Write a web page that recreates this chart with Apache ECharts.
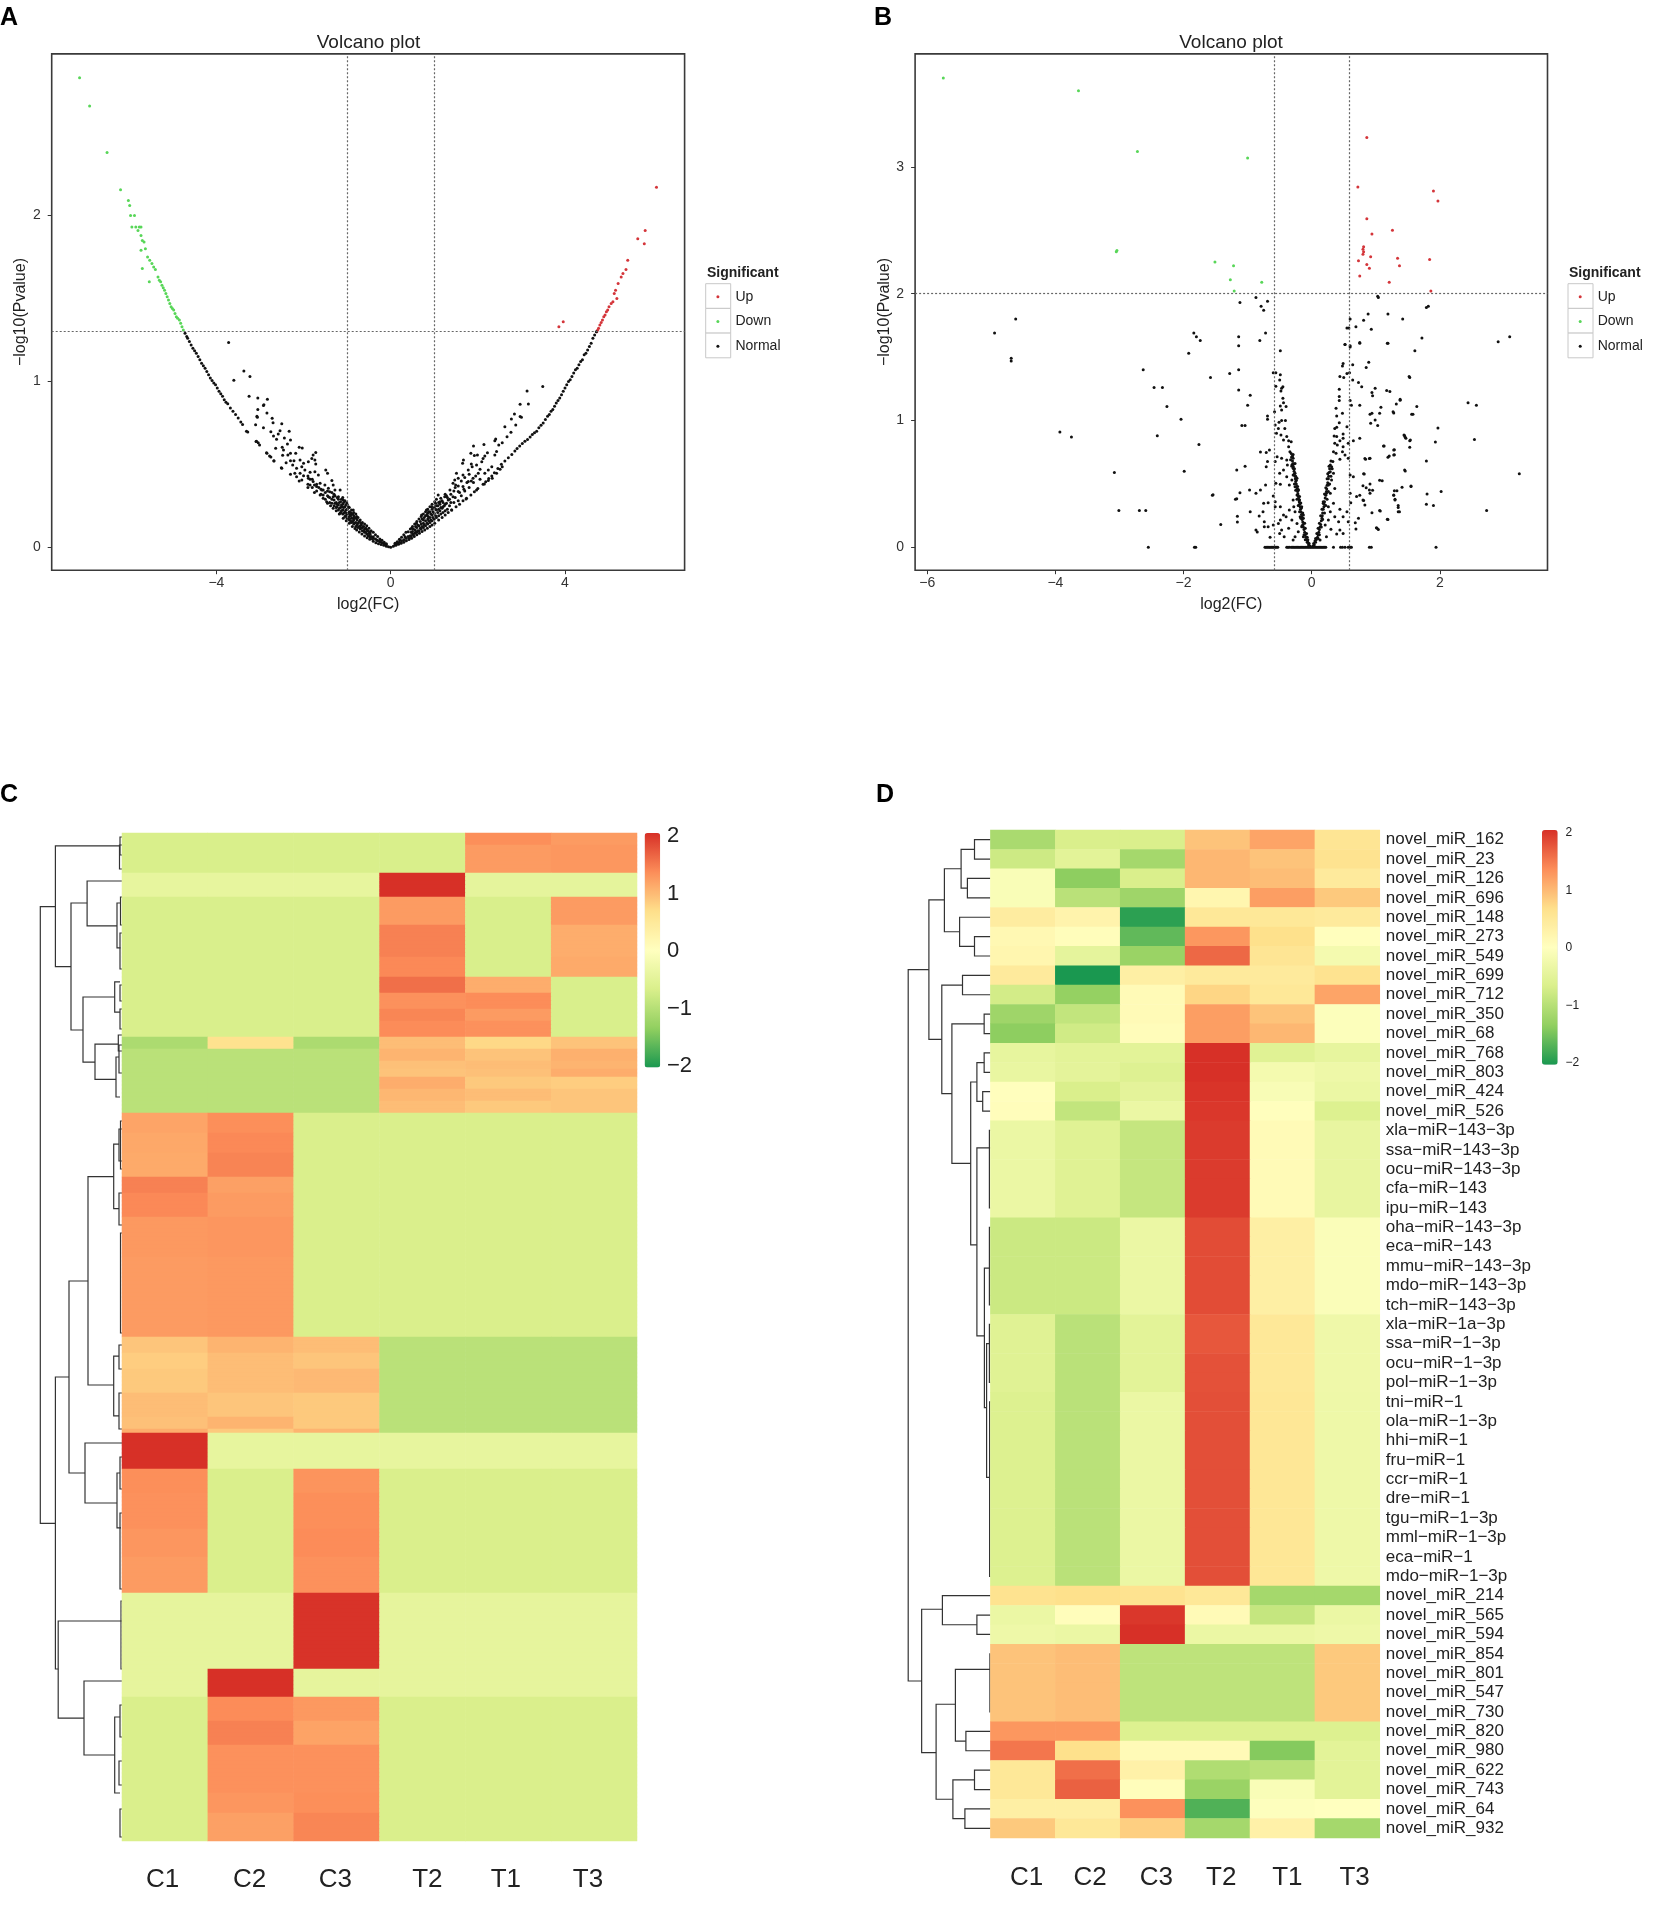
<!DOCTYPE html>
<html><head><meta charset="utf-8">
<style>html,body{margin:0;padding:0;background:#fff}#c{width:1654px;height:1906px}</style>
<script src="https://cdn.jsdelivr.net/npm/echarts@6/dist/echarts.min.js"></script>
</head><body><div id="c"></div>
<script>
// ---------- Volcano A (log2FC, -log10 P) ----------
const upA=[[6.1,2.17],[5.84,1.91],[5.67,1.86],[5.82,1.83],[5.44,1.73],[5.4,1.675],[5.33,1.65],[5.29,1.63],[5.22,1.59],[5.16,1.55],[5.13,1.53],[5.19,1.5],[5.1,1.48],[5.06,1.47],[5.01,1.45],[4.98,1.43],[4.95,1.42],[4.92,1.4],[4.89,1.39],[4.86,1.37],[4.83,1.355],[4.8,1.34],[4.77,1.32],[4.75,1.31],[4.73,1.3],[3.96,1.36],[3.86,1.33]];
const downA=[[-7.14,2.83],[-6.91,2.66],[-6.51,2.38],[-6.2,2.155],[-6.02,2.09],[-5.99,2.06],[-5.97,2.0],[-5.88,2.0],[-5.94,1.93],[-5.85,1.93],[-5.77,1.93],[-5.73,1.93],[-5.8,1.91],[-5.73,1.88],[-5.7,1.85],[-5.66,1.84],[-5.73,1.79],[-5.63,1.8],[-5.58,1.75],[-5.53,1.73],[-5.48,1.71],[-5.7,1.68],[-5.4,1.675],[-5.44,1.69],[-5.54,1.6],[-5.34,1.63],[-5.28,1.6],[-5.31,1.61],[-5.25,1.58],[-5.22,1.565],[-5.19,1.55],[-5.16,1.53],[-5.13,1.51],[-5.1,1.49],[-5.07,1.47],[-5.04,1.45],[-5.01,1.44],[-4.98,1.43],[-4.95,1.41],[-4.92,1.39],[-4.89,1.38],[-4.85,1.37],[-4.82,1.35],[-4.79,1.33],[-4.76,1.31]];
const normalA=[
[-4.72,1.29],[-4.68,1.27],[-4.66,1.26],[-4.62,1.24],[-4.58,1.22],[-4.54,1.2],[-4.5,1.185],[-4.46,1.17],[-4.42,1.15],[-4.38,1.13],[-4.34,1.11],[-4.3,1.095],[-4.26,1.08],[-4.22,1.06],[-4.18,1.04],[-4.14,1.02],[-4.1,1.005],[-4.06,.99],[-4.02,.98],[-3.98,.96],[-3.94,.94],[-3.9,.925],[-3.86,.91],[-3.82,.89],[-3.78,.875],[-3.74,.865],[-3.68,.84],[-3.62,.82],[-3.56,.8],[-3.5,.78],[-3.44,.755],[-3.4,.74],[-3.31,.7],[-3.28,.695],[-3.08,.64],[-3.04,.63],[-2.85,.57],[-2.78,.55],[-2.68,.52],[-2.51,.48],[-2.3,.44],[-2.1,.4],[-1.9,.36],[-1.75,.33],[-1.62,.315],[-1.55,.295],[-1.45,.265],[-1.38,.25],[-1.32,.235],[-1.25,.22],[-1.18,.2],[-1.09,.175],[-1.02,.16],[-.95,.145],[-.88,.125],[-.82,.113],[-.78,.104],[-.72,.092],[-.66,.08],[-.6,.068],[-.54,.058],[-.48,.048],[-.4,.036],[-.34,.028],[-.28,.022],[-.22,.017],[-.16,.012],[-.1,.007],[-.05,.003],[0,0],
[-3.72,1.234],[-3.37,1.063],[-3.6,1.007],[-3.23,1.029],[-3.25,.91],[-3.05,.9],[-2.83,.892],[-2.92,.854],[-2.91,.86],[-3.05,.83],[-2.84,.81],[-3.06,.784],[-3.07,.79],[-2.72,.778],[-2.5,.745],[-2.7,.751],[-3.1,.739],[-2.92,.721],[-2.75,.697],[-2.54,.703],[-2.33,.699],[-2.58,.683],[-2.69,.671],[-2.62,.651],[-2.44,.659],[-2.3,.647],[-3.09,.637],[-3.01,.617],[-2.37,.623],[-2.49,.603],[-2.64,.597],[-2.1,.603],[-2.03,.599],[-2.46,.587],[-2.84,.567],[-2.48,.555],[-2.36,.557],[-2.3,.567],[-2.18,.567],[-2.75,.545],[-2.68,.522],[-2.4,.51],[-2.3,.522],[-2.22,.522],[-1.78,.557],[-1.72,.571],[-1.81,.536],[-2.08,.526],[-2.0,.506],[-1.89,.516],[-1.74,.526],[-1.72,.502],[-2.5,.476],[-2.25,.496],[-2.16,.476],[-2.04,.486],[-1.97,.466],[-1.85,.452],[-1.74,.456],[-1.66,.436],[-1.49,.466],[-1.45,.446],[-2.2,.446],[-2.08,.446],[-2.0,.432],[-2.16,.426],[-2.04,.406],[-1.89,.416],[-1.78,.396],[-1.62,.386],[-1.35,.402],[-1.32,.376],[-1.51,.376],[-1.85,.376],[-1.7,.366],[-1.58,.346],[-1.43,.356],[-1.28,.346],[-1.16,.346],[-1.55,.315],[-1.43,.305],[-1.32,.305],[-1.2,.305],[-1.09,.285],[-1.01,.269],[-1.47,.275],[-1.35,.265],[-1.24,.245],[-1.12,.245],[-.97,.245],[-.86,.225],[-1.16,.205],[-1.01,.205],[-.93,.195],[-.78,.185],[-.7,.165],[-.86,.175],[-.67,.135],[-.55,.104],[-.4,.064],[-.47,.094],[-.32,.044],[-.24,.034],
[-.1,.015],[-.1,.022],[-.15,.02],[-.15,.03],[-.2,.028],[-.2,.042],[-.25,.035],[-.25,.05],[-.3,.04],[-.3,.065],[-.35,.05],[-.35,.075],[-.4,.055],[-.4,.09],[-.45,.065],[-.45,.1],[-.5,.07],[-.5,.085],[-.5,.115],[-.55,.08],[-.55,.13],[-.6,.09],[-.6,.11],[-.6,.14],[-.65,.1],[-.65,.12],[-.65,.15],[-.7,.11],[-.7,.13],[-.75,.12],[-.75,.145],[-.75,.18],[-.8,.125],[-.8,.15],[-.8,.175],[-.8,.2],[-.85,.14],[-.85,.165],[-.85,.19],[-.85,.21],[-.9,.15],[-.9,.175],[-.9,.2],[-.9,.225],[-.95,.165],[-.95,.185],[-.95,.215],[-.95,.24],[-1.0,.175],[-1.0,.2],[-1.0,.23],[-1.0,.26],[-1.05,.185],[-1.05,.215],[-1.05,.245],[-1.05,.28],[-1.1,.2],[-1.1,.225],[-1.1,.26],[-1.1,.3],[-1.15,.21],[-1.15,.24],[-1.15,.275],[-1.2,.225],[-1.2,.255],[-1.2,.29],[-1.25,.24],[-1.25,.27],[-1.3,.25],[-1.3,.285],[-1.3,.32],[-1.4,.27],[-1.4,.3],[-1.4,.335],[-1.5,.29],[-1.5,.33],[-1.6,.32],[-1.6,.35],[-1.7,.34],[-1.7,.38],[-1.8,.36],[-1.8,.41],[-1.9,.38],[-1.9,.43],
[-.42,.05],[-.47,.06],[-.47,.08],[-.52,.07],[-.52,.1],[-.57,.09],[-.57,.115],[-.62,.1],[-.62,.125],[-.68,.115],[-.68,.145],[-.72,.125],[-.72,.155],[-.77,.135],[-.77,.165],[-.83,.145],[-.83,.18],[-.87,.155],[-.87,.2],[-.92,.16],[-.92,.19],[-.92,.21],[-.97,.175],[-.97,.205],[-1.03,.19],[-1.03,.225],[-1.03,.255],[-1.08,.205],[-1.08,.24],[-1.08,.27],[-1.13,.22],[-1.13,.255],[-1.13,.29],[-1.18,.235],[-1.18,.27],[-1.23,.26],[-1.23,.3],[-1.28,.265],[-1.28,.31],[-1.35,.29],[-1.35,.33],[-1.45,.31],[-1.45,.34],[-1.55,.345],[-1.65,.36],[-1.75,.375],[-1.85,.41],
[4.72,1.3],[4.68,1.28],[4.64,1.26],[4.6,1.23],[4.56,1.21],[4.52,1.19],[4.48,1.17],[4.44,1.16],[4.4,1.13],[4.36,1.12],[4.32,1.1],[4.28,1.08],[4.24,1.07],[4.2,1.05],[4.16,1.03],[4.12,1.01],[4.08,1.0],[4.04,.98],[4.0,.96],[3.96,.94],[3.92,.92],[3.88,.9],[3.84,.885],[3.8,.87],[3.76,.85],[3.72,.83],[3.68,.82],[3.64,.8],[3.6,.79],[3.55,.77],[3.5,.75],[3.45,.735],[3.4,.72],[3.35,.7],[3.3,.69],[3.25,.68],[3.2,.665],[3.14,.65],[3.08,.64],[3.02,.625],[2.96,.61],[2.9,.595],[2.85,.58],[2.78,.56],[2.7,.54],[2.62,.52],[2.54,.5],[2.46,.475],[2.38,.45],[2.32,.43],[2.25,.415],[2.18,.395],[2.12,.38],[2.0,.355],[1.92,.335],[1.84,.315],[1.74,.295],[1.66,.28],[1.58,.26],[1.5,.245],[1.4,.225],[1.32,.21],[1.25,.195],[1.18,.18],[1.1,.165],[1.01,.145],[.95,.135],[.9,.125],[.84,.115],[.78,.105],[.72,.095],[.66,.085],[.6,.075],[.54,.065],[.48,.054],[.42,.047],[.36,.04],[.3,.03],[.24,.024],[.18,.018],[.12,.012],[.06,.006],
[1.9,.61],[2.14,.62],[2.41,.653],[2.39,.643],[2.56,.63],[1.84,.567],[1.92,.553],[1.99,.557],[1.67,.526],[1.65,.506],[1.85,.502],[1.97,.496],[2.12,.536],[2.22,.57],[2.16,.55],[2.09,.516],[2.39,.557],[2.43,.577],[2.48,.617],[3.13,.942],[3.49,.97],[2.97,.862],[3.16,.864],[2.84,.804],[2.77,.774],[2.97,.788],[3.0,.784],[2.87,.737],[2.62,.727],[2.76,.693],[2.67,.667],[1.51,.446],[1.47,.406],[1.43,.386],[1.55,.416],[1.66,.436],[1.78,.466],[1.87,.486],[2.01,.446],[1.89,.416],[1.78,.396],[1.66,.366],[1.55,.336],[1.43,.305],[1.97,.346],[1.73,.291],[2.16,.446],[2.32,.486],[2.24,.466],[2.15,.382],[2.24,.402],[2.33,.416],[2.43,.446],[2.56,.486],[2.51,.47],[1.4,.225],[1.09,.315],[1.24,.305],[1.13,.275],[1.36,.346],[1.49,.376],[1.32,.285],[1.01,.275],[.94,.245],[.82,.225],[1.05,.225],[1.2,.245],[.71,.195],[.86,.185],[.59,.145],[.75,.145],[.48,.115],[.4,.094],[.56,.104],[.33,.064],[.21,.044],
[.1,.016],[.1,.024],[.15,.022],[.15,.034],[.2,.03],[.2,.048],[.25,.04],[.25,.06],[.3,.045],[.3,.075],[.35,.055],[.35,.09],[.4,.065],[.45,.07],[.45,.11],[.5,.08],[.5,.095],[.5,.125],[.55,.085],[.55,.14],[.6,.09],[.6,.12],[.6,.155],[.65,.1],[.65,.13],[.65,.17],[.7,.11],[.7,.14],[.7,.185],[.75,.12],[.75,.165],[.75,.2],[.8,.13],[.8,.16],[.8,.19],[.8,.215],[.85,.14],[.85,.17],[.85,.205],[.85,.23],[.9,.15],[.9,.18],[.9,.215],[.9,.245],[.95,.16],[.95,.195],[.95,.23],[.95,.26],[1.0,.17],[1.0,.205],[1.0,.24],[1.05,.18],[1.05,.25],[1.05,.29],[1.1,.19],[1.1,.23],[1.1,.27],[1.15,.2],[1.15,.24],[1.15,.295],[1.2,.21],[1.2,.27],[1.25,.22],[1.25,.26],[1.25,.32],[1.3,.23],[1.3,.3],[1.35,.25],[1.35,.29],[1.45,.27],[1.45,.34],[1.55,.28],[1.55,.37],[1.62,.31],[1.62,.4],[1.7,.34],[1.7,.42],[1.8,.36],[1.8,.44],[1.9,.39],[1.95,.43],[2.05,.41],[2.05,.47],
[.42,.055],[.47,.065],[.47,.09],[.52,.075],[.52,.11],[.57,.09],[.57,.125],[.62,.1],[.62,.135],[.68,.115],[.68,.155],[.72,.125],[.72,.17],[.77,.135],[.77,.18],[.83,.145],[.83,.195],[.87,.16],[.87,.215],[.92,.165],[.92,.2],[.97,.18],[.97,.215],[1.03,.19],[1.03,.23],[1.03,.265],[1.08,.21],[1.08,.25],[1.13,.22],[1.13,.26],[1.18,.235],[1.18,.28],[1.23,.25],[1.28,.265],[1.28,.31],[1.38,.27],[1.38,.32],[1.48,.3],[1.48,.36],[1.58,.33],[1.68,.35],[1.75,.39],[1.85,.4]];
const vLinesA=[-1,1]; const hLinesA=[1.3];
const xTicksA=[-4,0,4]; const yTicksA=[0,1,2];

// ---------- Volcano B ----------
const upB=[[.86,3.23],[.72,2.84],[1.9,2.81],[1.97,2.73],[.86,2.59],[1.26,2.5],[.94,2.47],[.81,2.37],[.8,2.35],[.81,2.33],[.8,2.31],[.92,2.29],[1.34,2.28],[.73,2.26],[1.84,2.27],[1.37,2.22],[.86,2.23],[.9,2.2],[.75,2.14],[1.21,2.09],[1.86,2.02]];
const downB=[[-5.75,3.7],[-3.64,3.6],[-2.72,3.12],[-1.0,3.07],[-3.05,2.33],[-3.04,2.34],[-1.51,2.25],[-1.22,2.22],[-1.27,2.11],[-.78,2.09],[-1.21,2.02]];
const normalB=[
[-4.62,1.8],[-4.95,1.69],[-4.69,1.49],[-4.69,1.47],[-3.93,.91],[-3.75,.87],[-2.63,1.4],[-2.46,1.26],[-2.33,1.26],[-2.26,1.11],[-2.04,1.01],[-2.41,.88],[-1.76,.81],[-3.08,.59],[-1.99,.6],[-3.01,.29],[-2.69,.29],[-2.59,.29],[-2.55,0],[-1.83,0],[-1.81,0],[-1.84,1.69],[-1.8,1.66],[-1.74,1.63],[-1.92,1.53],[-1.58,1.34],[-1.28,1.37],[-1.14,1.4],[-1.14,1.66],[-1.14,1.59],[-.81,1.63],[-.72,1.69],[-.49,1.55],[-1.12,1.93],[-.87,1.97],[-.69,1.94],[-.79,1.9],[-.75,1.87],[-1.14,1.24],[-.96,1.2],[-1.0,1.12],[-1.09,.96],[-1.04,.96],[-1.04,.64],[-1.17,.61],[-1.55,.41],[-1.42,.18],[-1.16,.245],[-1.16,.2],[-1.19,.38],[-1.12,.43],
[1.03,1.98],[1.04,1.97],[1.19,1.84],[1.42,1.8],[1.82,1.9],[1.79,1.89],[1.72,1.65],[1.61,1.55],[1.19,1.61],[.75,1.61],[.93,1.72],[.88,1.84],[.81,1.79],[.69,1.74],[.58,1.73],[.55,1.73],[.6,1.8],[.52,1.6],[.6,1.59],[2.91,1.62],[3.09,1.66],[2.44,1.14],[2.57,1.12],[2.54,.85],[3.24,.58],[2.73,.29],[1.53,1.34],[1.64,1.11],[1.56,1.05],[1.38,1.16],[1.28,1.06],[1.97,.94],[1.93,.83],[1.79,.68],[2.02,.44],[1.55,.48],[1.45,.61],[1.8,.42],[1.79,.34],[1.9,.33],[1.94,0],[.93,0],[.9,0],[1.45,.88],[1.47,.86],[1.53,.84],[1.53,.79],[1.29,.77],[1.29,.73],[1.19,.71],[1.12,.8],[.83,.7],[.9,.7],[1.06,.53],[.81,.58],[.95,.45],[1.28,.41],[1.3,.38],[1.35,.33],[1.37,.28],[1.06,.29],[1.19,.22],[1.02,.15],[1.04,.14],[.91,.5],[.75,.41],[.81,.37],
[-.8,.752],[-.71,.747],[-.66,.768],[-.69,.676],[-.71,.636],[-1.54,.415],[-1.17,.384],[-.97,.452],[-.87,.426],[-.8,.452],[-.72,.492],[-.96,.281],[-.82,.247],[-.75,.347],[-.68,.352],[-.6,.405],[-.57,.36],[-.76,.281],[-.74,.202],[-.87,.137],[-.85,.121],[-.74,.163],[-.68,.163],[-.6,.176],[-.65,.079],[-.52,.189],[-.49,.216],[-.44,.255],[-.4,.242],[-.57,.321],[-.49,.321],[-.47,.137],[-.5,.11],[-.43,.084],[-.36,.15],[-.31,.216],[-.35,.294],[-.28,.321],[-.26,.084],[-.21,.124],[-.23,.189],[-.18,.242],[-.156,.163],[-.13,.084],[-.29,.058],
[-.6,1.377],[-.56,1.377],[-.49,1.36],[-.56,1.27],[-.5,1.32],[-.47,1.254],[-.45,1.267],[-.48,1.233],[-.45,1.175],[-.58,1.07],[-.44,1.14],[-.4,1.11],[-.49,1.115],[-.47,1.083],[-.69,1.036],[-.69,1.01],[-.57,.965],[-.51,.986],[-.47,1.0],[-.41,1.0],[-.52,.938],[-.42,.938],[-.55,.9],[-.48,.886],[-.39,.873],[-.44,.846],[-.36,.841],[-.32,.833],[-.36,.794],[-.34,.754],[-.29,.733],[-.31,.715],[-.54,.715],[-.47,.702],[-.39,.689],[-.29,.702],[-.57,.676],[-.38,.649],[-.31,.649],[-.26,.662],[-.29,.623],[-.44,.61],[-.5,.584],[-.39,.557],[-.26,.584],[-.23,.544],[-.31,.531],[-.35,.492],[-.56,.505],[-.49,.497],[-.26,.478],[-.21,.457],[-.23,.413],[-.29,.373],[-.19,.373],[-.156,.321],[-.13,.255],[-.26,.281],
[-.32,.74],[-.31,.71],[-.3,.68],[-.295,.66],[-.29,.64],[-.28,.62],[-.275,.6],[-.27,.58],[-.26,.56],[-.255,.54],[-.25,.52],[-.24,.5],[-.235,.48],[-.23,.46],[-.22,.44],[-.215,.42],[-.21,.4],[-.2,.38],[-.195,.36],[-.19,.34],[-.18,.32],[-.175,.3],[-.17,.28],[-.16,.26],[-.155,.24],[-.15,.22],[-.14,.2],[-.135,.18],[-.13,.16],[-.12,.14],[-.11,.12],[-.1,.1],[-.09,.08],[-.08,.06],[-.06,.04],[-.05,.02],[-.03,.01],[-.02,.005],[-.3,.72],[-.28,.66],[-.27,.62],[-.25,.56],[-.24,.53],[-.22,.48],[-.21,.45],[-.19,.4],[-.17,.35],[-.16,.31],[-.14,.27],[-.13,.23],[-.11,.19],[-.1,.15],[-.08,.11],[-.07,.08],[-.06,.06],[-.04,.03],[-.33,.69],[-.31,.64],[-.29,.57],[-.27,.5],[-.25,.45],[-.23,.38],[-.21,.33],[-.19,.28],[-.17,.23],[-.15,.17],[-.12,.1],[-.1,.06],[-.07,.04],
[.49,1.45],[.48,1.43],[.64,1.44],[.85,1.417],[.89,1.46],[.44,1.346],[.5,1.34],[.55,1.37],[.59,1.377],[.64,1.32],[.73,1.3],[.78,1.267],[.43,1.246],[.43,1.19],[.43,1.157],[.6,1.157],[.62,1.12],[.75,1.12],[.38,1.096],[.48,1.057],[.39,1.036],[.43,.983],[.39,.946],[.36,.938],[.55,.95],[.49,.894],[.35,.878],[.39,.873],[.49,.86],[.44,.841],[.57,.82],[.65,.841],[.75,.86],[.36,.82],[.4,.807],[.49,.794],[.34,.754],[.38,.741],[.48,.754],[.52,.728],[.44,.694],[.33,.676],[.57,.702],[.31,.636],[.29,.597],[.34,.584],[.6,.57],[.65,.557],[.31,.531],[.26,.492],[.23,.426],[.29,.426],[.36,.465],[.6,.426],[.7,.4],[.8,.373],[.18,.347],[.26,.321],[.34,.347],[.44,.3],[.55,.281],[.61,.352],[.49,.242],[.36,.242],[.42,.202],[.29,.281],[.26,.216],[.21,.176],[.3,.142],[.44,.137],[.39,.105],[.49,.11],[.68,.195],[.73,.229],[.69,.145],[.57,.202],[.23,.084],[.13,.058],[.94,.273],[1.07,.287],[1.18,.221],[1.01,.155],[.83,.334],[.91,.426],[.8,.486],[.85,.47],[.9,.452],[.82,.578],[1.1,.526],[.84,.694],[.91,.702],[1.21,.72],[1.28,.728],[1.28,.768],[1.13,.8],[1.44,.886],[1.46,.868],[1.54,.846],[1.46,.602],[1.41,.473],[1.55,.484],[1.29,.447],[1.33,.447],[1.28,.413],[1.3,.373],[1.35,.315],[1.35,.281],[.99,1.254],[.94,1.22],[.95,1.196],[1.17,1.236],[1.22,1.228],[1.32,1.13],[1.38,1.167],[1.27,1.07],[1.06,1.057],[1.08,1.104],[.91,1.049],[.94,1.057],[.92,.978],[.99,1.004],[1.03,.96],[1.58,1.05],[1.52,1.346],[1.18,1.61],[.75,1.614],[.52,1.6],[.6,1.58],
[.3,.68],[.29,.65],[.28,.62],[.27,.59],[.265,.56],[.26,.54],[.25,.51],[.24,.49],[.235,.46],[.23,.44],[.22,.41],[.21,.39],[.2,.36],[.195,.34],[.19,.32],[.18,.3],[.17,.27],[.165,.25],[.16,.23],[.15,.21],[.14,.18],[.13,.16],[.12,.14],[.11,.12],[.1,.1],[.09,.08],[.07,.06],[.06,.04],[.04,.02],[.02,.01],[.27,.64],[.25,.58],[.24,.54],[.22,.47],[.2,.42],[.18,.36],[.16,.3],[.14,.25],[.12,.19],[.1,.15],[.08,.11],[.06,.07],[.05,.05],[.03,.03],[.32,.62],[.3,.56],[.28,.5],[.26,.44],[.24,.38],[.22,.33],[.2,.27],[.17,.22],[.15,.16],[.12,.1],[.1,.07],
[-.73,0],[-.71,0],[-.69,0],[-.67,0],[-.65,0],[-.63,0],[-.61,0],[-.59,0],[-.57,0],[-.55,0],[-.53,0],[-.39,0],[-.37,0],[-.35,0],[-.32,0],[-.3,0],[-.28,0],[-.26,0],[-.24,0],[-.22,0],[-.2,0],[-.18,0],[-.16,0],[-.14,0],[-.12,0],[-.1,0],[-.08,0],[-.06,0],[-.04,0],[-.02,0],[0,0],[.02,0],[.04,0],[.06,0],[.08,0],[.1,0],[.12,0],[.14,0],[.16,0],[.18,0],[.2,0],[.22,0],[.34,0],[.45,0],[.48,0],[.52,0],[.57,0],[.6,0],[.62,0]];
const vLinesB=[-.585,.585]; const hLinesB=[2];
const xTicksB=[-6,-4,-2,0,2]; const yTicksB=[0,1,2,3];

// ---------- Heatmap columns ----------
const columns=['C1','C2','C3','T2','T1','T3'];
// Heatmap C: [number of rows in the block, C1, C2, C3, T2, T1, T3]
const blocksC=[
[3,-.67,-.67,-.67,-.67,1.32,1.22],[7,-.67,-.67,-.67,-.67,1.22,1.25],
[6,-.42,-.42,-.42,2,-.45,-.45],
[7,-.66,-.66,-.66,1.22,-.66,1.22],[8,-.66,-.66,-.66,1.42,-.66,1.08],[5,-.66,-.66,-.66,1.36,-.66,1.1],
[4,-.66,-.66,-.66,1.55,1.08,-.66],[4,-.66,-.66,-.66,1.3,1.33,-.66],[3,-.66,-.66,-.66,1.38,1.22,-.66],[4,-.66,-.66,-.66,1.34,1.3,-.66],
[3,-1.08,.62,-1.08,.95,.72,.9],[3,-.95,-.95,-.95,1.02,.9,1.05],[2,-.95,-.95,-.95,.92,.95,1.02],[2,-.95,-.95,-.95,.9,.92,1.08],
[3,-.95,-.95,-.95,1.08,.85,.82],[3,-.95,-.95,-.95,1.0,.95,.88],[3,-.95,-.95,-.95,.95,.85,.88],
[5,1.15,1.32,-.65,-.65,-.65,-.65],[5,1.12,1.36,-.65,-.65,-.65,-.65],[6,1.1,1.4,-.65,-.65,-.65,-.65],
[4,1.42,1.18,-.65,-.65,-.65,-.65],[6,1.36,1.22,-.65,-.65,-.65,-.65],
[10,1.24,1.26,-.65,-.65,-.65,-.65],[20,1.22,1.24,-.65,-.65,-.65,-.65],
[4,.88,1.02,.95,-.95,-.95,-.95],[4,.82,.95,.88,-.95,-.95,-.95],[6,.85,.95,.98,-.95,-.95,-.95],[6,.95,.88,.85,-.95,-.95,-.95],[3,.92,1.02,.85,-.95,-.95,-.95],[1,1.08,.85,1.02,-.95,-.95,-.95],
[9,2,-.42,-.42,-.42,-.42,-.42],
[6,1.32,-.65,1.28,-.65,-.65,-.65],[9,1.3,-.65,1.32,-.65,-.65,-.65],[7,1.26,-.65,1.34,-.65,-.65,-.65],[9,1.22,-.65,1.3,-.65,-.65,-.65],
[19,-.44,-.44,1.98,-.44,-.44,-.44],[7,-.44,2,-.44,-.44,-.44,-.44],
[6,-.65,1.34,1.24,-.65,-.65,-.65],[6,-.65,1.42,1.16,-.65,-.65,-.65],[12,-.65,1.3,1.3,-.65,-.65,-.65],[5,-.65,1.26,1.32,-.65,-.65,-.65],[7,-.65,1.18,1.38,-.65,-.65,-.65]];
// Heatmap D
const rowNamesD=['novel_miR_162','novel_miR_23','novel_miR_126','novel_miR_696','novel_miR_148','novel_miR_273','novel_miR_549','novel_miR_699','novel_miR_712','novel_miR_350','novel_miR_68','novel_miR_768','novel_miR_803','novel_miR_424','novel_miR_526','xla-miR-143-3p','ssa-miR-143-3p','ocu-miR-143-3p','cfa-miR-143','ipu-miR-143','oha-miR-143-3p','eca-miR-143','mmu-miR-143-3p','mdo-miR-143-3p','tch-miR-143-3p','xla-miR-1a-3p','ssa-miR-1-3p','ocu-miR-1-3p','pol-miR-1-3p','tni-miR-1','ola-miR-1-3p','hhi-miR-1','fru-miR-1','ccr-miR-1','dre-miR-1','tgu-miR-1-3p','mml-miR-1-3p','eca-miR-1','mdo-miR-1-3p','novel_miR_214','novel_miR_565','novel_miR_594','novel_miR_854','novel_miR_801','novel_miR_547','novel_miR_730','novel_miR_820','novel_miR_980','novel_miR_622','novel_miR_743','novel_miR_64','novel_miR_932'];
const valuesD=[
[-1.1,-.65,-.65,.9,1.15,.55],[-.78,-.5,-1.15,1.0,.9,.6],[-.1,-1.35,-.65,1.0,.95,.45],[-.1,-.95,-1.2,.2,1.2,.85],
[.4,.25,-1.9,.5,.5,.45],[.15,.05,-1.6,1.25,.65,.02],[.2,-.45,-1.25,1.6,.55,-.2],[.45,-2,.35,.45,.45,.6],
[-.72,-1.3,.1,.75,.5,1.15],[-1.2,-.88,.1,1.2,.9,-.05],[-1.35,-.75,.07,1.2,1.0,-.05],
[-.42,-.5,-.5,2,-.55,-.42],[-.38,-.48,-.58,2,-.2,-.3],[.02,-.65,-.48,1.97,-.12,-.35],[.05,-.88,-.35,1.95,.03,-.6],
[-.35,-.55,-.85,1.92,.1,-.4],[-.35,-.55,-.85,1.92,.1,-.4],[-.35,-.55,-.85,1.92,.1,-.4],[-.35,-.55,-.85,1.92,.1,-.4],[-.35,-.55,-.85,1.92,.1,-.4],
[-.8,-.8,-.35,1.8,.35,-.08],[-.8,-.8,-.35,1.8,.35,-.08],[-.8,-.8,-.35,1.8,.35,-.08],[-.8,-.8,-.35,1.8,.35,-.08],[-.8,-.8,-.35,1.8,.35,-.08],
[-.55,-.95,-.5,1.72,.5,-.28],[-.55,-.95,-.5,1.72,.5,-.28],[-.55,-.95,-.5,1.76,.5,-.28],[-.55,-.95,-.5,1.76,.5,-.28],
[-.6,-.95,-.35,1.78,.52,-.3],[-.6,-.95,-.35,1.78,.52,-.3],[-.6,-.95,-.35,1.78,.52,-.3],[-.6,-.95,-.35,1.78,.52,-.3],[-.6,-.95,-.35,1.78,.52,-.3],[-.6,-.95,-.35,1.78,.52,-.3],[-.6,-.95,-.35,1.78,.52,-.3],[-.6,-.95,-.35,1.78,.52,-.3],[-.6,-.95,-.35,1.78,.52,-.3],[-.6,-.95,-.35,1.78,.52,-.3],
[.6,.65,.6,.5,-1.15,-1.15],[-.35,.05,1.95,.1,-.85,-.35],[-.3,-.35,2,-.35,-.35,-.3],
[.9,.95,-.92,-.92,-.92,.85],[.9,.95,-.92,-.92,-.92,.85],[.9,.95,-.92,-.92,-.92,.85],[.9,.95,-.92,-.92,-.92,.85],
[1.25,1.25,-.6,-.6,-.6,-.6],[1.5,.65,.1,.1,-1.4,-.5],[.5,1.55,.3,-1.05,-.95,-.5],[.5,1.65,.05,-1.25,-.1,-.5],[.35,.35,1.3,-1.7,-.03,0],[.85,.5,.8,-1.15,.3,-1.15]];
const scaleTicks=[-2,-1,0,1,2];
const scaleColors=['#1a9850','#91cf60','#d9ef8b','#ffffbf','#fee08b','#fc8d59','#d73027'];
// Dendrograms: [merge height, rowA, heightA, rowB, heightB]
const treeC=[[81.7,18.4,66.6,172.6,66.6],[66.6,3.2,2,33.4,51],[51,17.5,34.9,49.25,39],[34.9,12,0,23.2,5],[39,41,7.3,57.3,27],[27,52.8,3.7,61.6,6],[66.6,136,53,209,63.8],[53,112,34,160,37],[34,85.9,8.3,138,8.3],[37,152.5,0,167.5,5],[63.8,197,0,221.3,38],[38,212,0,230.5,7.3],[7.3,37.2,2,44.8,2],[5,17.5,2,28.7,1.5],[8.3,77.8,3,93.9,3],[8.3,130.8,3,145.7,3],[5,160,2,173.7,1],[7.3,221,2,240,2],[3.7,50.5,0,54.5,0],[6,56,3,66,2],[3,53,0,60,0],[2,1,0,5.5,0],[2.5,3,0,9,0],[1.5,16,0,23,0],[2,25,0,34,0],[2,38,0,42,0],[2,44,0,49,0],[1.5,72,0,84,0],[3,74,0,82,0],[3,90,0,98,0],[1.5,100,0,125,0],[3,128,0,134,0],[3,140,0,149,0],[2,156,0,164,0],[2,170,0,189,0],[1,192,0,209,0],[2,218,0,226,0],[3,232,0,238,0],[2,244,0,251,0]];
const treeD=[[15.9,.5,0,1.5,0],[23,2.5,0,3.5,0],[29.3,1,15.9,3,23],[15.9,5.5,0,6.5,0],[30.8,4.5,0,6,15.9],[46,2,29.3,5.25,30.8],[27.9,7.5,0,8.5,0],[6.25,9.5,0,10.5,0],[6.25,11.5,0,12.5,0],[7.7,13.5,0,14.5,0],[13.5,12,6.25,14,7.7],[48.6,8,27.9,13.6,38.5],[38.5,10,6.25,17.2,19.7],[19.7,13,13.5,21.4,13.5],[13.5,16.4,0,26.1,6],[6,22.6,1,29.8,3.8],[3.8,26.5,1,33.4,.8],[1,15.5,0,19.5,0],[1,20.5,0,24.5,0],[1,25.5,0,28.5,0],[.8,29.5,0,38.5,0],[61.5,3.6,46,10.8,48.6],[82.2,7.2,61.5,43.9,68.75],[68.75,40.2,48,47.6,54.3],[48,39.5,0,41,13.5],[13.5,40.5,0,41.5,0],[54.3,45.1,35,50,37.5],[35,43.3,.5,47,24.5],[.5,42.5,0,45.5,0],[24.5,46.5,0,47.5,0],[37.5,49,15.9,51,25.5],[15.9,48.5,0,49.5,0],[25.5,50.5,0,51.5,0]];

// ---------- build ----------
const FONT='"Liberation Sans",Arial,sans-serif';
const minus=s=>String(s).replace(/-/g,'\u2212');
const rowsC=[]; blocksC.forEach(b=>{for(let i=0;i<b[0];i++)rowsC.push(b.slice(1));});
const rowIdsC=rowsC.map((_,i)=>String(i));
const cells=rows=>{const o=[];rows.forEach((r,y)=>r.forEach((v,x)=>o.push([x,y,v])));return o;};
const treeLines=t=>t.map(n=>({coords:[[n[2],n[1]],[n[0],n[1]],[n[0],n[3]],[n[4],n[3]]]}));

const volcanoGrid=(left,right)=>({left,top:53.9,width:right-left,height:570.2-53.9,show:true,borderColor:'#3a3a3a',borderWidth:1.6,backgroundColor:'#fff'});
const valueAxis=(type,gridIndex,min,max,ticks,name)=>({type:'value',gridIndex,min,max,scale:true,
  name,nameLocation:'middle',nameGap:type==='x'?26:17,nameTextStyle:{fontFamily:FONT,fontSize:16,color:'#222'},
  splitLine:{show:false},axisLine:{show:false,onZero:false},
  axisTick:{show:true,length:4,lineStyle:{color:'#333'},customValues:ticks},
  axisLabel:{fontFamily:FONT,fontSize:14,color:'#333',margin:type==='x'?6:11,customValues:ticks,formatter:v=>minus(v)}});
const scat=(name,data,color,i,mark)=>({type:'scatter',name,data,xAxisIndex:i,yAxisIndex:i,symbolSize:3,itemStyle:{color,opacity:1},silent:true,
  markLine:mark?{silent:true,symbol:'none',label:{show:false},lineStyle:{color:'#666',type:[2,2],width:1.2},data:mark}:undefined});
const markOf=(v,h)=>v.map(x=>({xAxis:x})).concat(h.map(y=>({yAxis:y})));
const legendAt=(left)=>({left:left+10.7,top:284.5,orient:'vertical',padding:0,itemGap:0,itemWidth:25,itemHeight:3,selectedMode:false,
  data:['Up','Down','Normal'],textStyle:{fontFamily:FONT,fontSize:14,color:'#222',lineHeight:24.7}});
const keyBoxes=(left)=>[0,1,2].map(i=>({type:'rect',silent:true,z:-1,shape:{x:left,y:283.7+24.7*i,width:25,height:24.7},style:{fill:'#fff',stroke:'#c8c8c8',lineWidth:1}}));
const letter=(text,left,top)=>({text,left,top,padding:0,textStyle:{fontFamily:FONT,fontSize:25,fontWeight:'bold',color:'#000'}});
const ptitle=(text,left)=>({text,left,top:33,padding:0,textAlign:'center',textStyle:{fontFamily:FONT,fontSize:19,fontWeight:'normal',color:'#222'}});
const sigT=(left)=>({text:'Significant',left,top:266,padding:0,textStyle:{fontFamily:FONT,fontSize:14,fontWeight:'bold',color:'#222'}});
// per-column nudge of the header labels, as in the picture
const nudge=d=>({fontFamily:FONT,fontSize:26,color:'#222',padding:d>=0?[0,0,0,2*d]:[0,-2*d,0,0]});
const catX=(gridIndex,nudges,margin)=>{const rich={};nudges.forEach((d,i)=>rich['c'+i]=nudge(d));
  return {type:'category',gridIndex,data:columns,axisLine:{show:false},axisTick:{show:false},splitLine:{show:false},
  axisLabel:{interval:0,hideOverlap:false,fontFamily:FONT,fontSize:26,color:'#222',margin,formatter:(v,i)=>'{c'+i+'|'+v+'}',rich}};};
const treeX=(gridIndex,max)=>({type:'value',gridIndex,inverse:true,min:0,max,show:false,splitLine:{show:false}});
const treeY=(gridIndex,max)=>({type:'value',gridIndex,inverse:true,min:0,max,show:false,splitLine:{show:false}});
const treeS=(data,i)=>({type:'lines',coordinateSystem:'cartesian2d',xAxisIndex:i,yAxisIndex:i,polyline:true,silent:true,
  lineStyle:{color:'#333',width:1.2,opacity:1},data:treeLines(data)});
const blankX=(gridIndex)=>({type:'value',gridIndex,show:false,min:0,max:1,splitLine:{show:false}});
const scaleY=(gridIndex,fs,margin)=>({type:'value',gridIndex,position:'right',min:-2,max:2,
  splitLine:{show:false},axisLine:{show:false},axisTick:{show:false},
  axisLabel:{fontFamily:FONT,fontSize:fs,color:'#222',margin,customValues:scaleTicks,formatter:v=>minus(v)}});
const vm=(left,top,w,h,idx)=>({type:'continuous',min:-2,max:2,left,top,itemWidth:w,itemHeight:h,padding:0,seriesIndex:idx,calculable:false,realtime:false,
  inRange:{color:scaleColors},text:['',''],textGap:0});

const option={animation:false,backgroundColor:'#fff',
 title:[letter('A',0,6),letter('B',874,6),letter('C',0,783),letter('D',876,783),
   ptitle('Volcano plot',368.5),ptitle('Volcano plot',1231),sigT(707),sigT(1569)],
 legend:[legendAt(705.7),legendAt(1568)],
 graphic:{elements:keyBoxes(705.7).concat(keyBoxes(1568))},
 grid:[volcanoGrid(51.7,684.6),volcanoGrid(915.1,1547.5),
   {left:22,top:833,width:100,height:1008},{left:122,top:833,width:515,height:1008},{left:646,top:836,width:14,height:230},
   {left:900.4,top:830,width:90,height:1008},{left:990.4,top:830,width:389.4,height:1008},{left:1543,top:833,width:14.5,height:230}],
 xAxis:[valueAxis('x',0,-7.78,6.745,xTicksA,'log2(FC)'),valueAxis('x',1,-6.19,3.68,xTicksB,'log2(FC)'),
   treeX(2,100),catX(3,[-2.4,-1.2,-1.2,4.9,-2.4,-6.1],26),blankX(4),treeX(5,90),catX(6,[3.7,2.4,3.7,3.7,4.9,7.3],27),blankX(7)],
 yAxis:[valueAxis('y',0,-0.138,2.974,yTicksA,'\u2212log10(Pvalue)'),valueAxis('y',1,-0.18,3.89,yTicksB,'\u2212log10(Pvalue)'),
   treeY(2,252),
   {type:'category',gridIndex:3,inverse:true,data:rowIdsC,show:false},
   scaleY(4,22,7),
   treeY(5,52),
   {type:'category',gridIndex:6,inverse:true,position:'right',data:rowNamesD,axisLine:{show:false},axisTick:{show:false},splitLine:{show:false},
    axisLabel:{interval:0,fontFamily:FONT,fontSize:17,color:'#222',margin:6,formatter:minus}},
   scaleY(7,12,8)],
 visualMap:[vm(644.6,833,15.6,234.5,[7]),vm(1542,830,15.7,234.8,[9])],
 series:[
  scat('Up',upA,'#d4353a',0),scat('Down',downA,'#58d658',0),scat('Normal',normalA,'#111',0,markOf(vLinesA,hLinesA)),
  scat('Up',upB,'#d4353a',1),scat('Down',downB,'#58d658',1),scat('Normal',normalB,'#111',1,markOf(vLinesB,hLinesB)),
  treeS(treeC,2),
  {type:'heatmap',xAxisIndex:3,yAxisIndex:3,data:cells(rowsC),silent:true,progressive:0},
  treeS(treeD,5),
  {type:'heatmap',xAxisIndex:6,yAxisIndex:6,data:cells(valuesD),silent:true,progressive:0}
 ]};
const chart=echarts.init(document.getElementById('c'),null,{renderer:'canvas',width:1654,height:1906});
chart.setOption(option);
</script></body></html>
